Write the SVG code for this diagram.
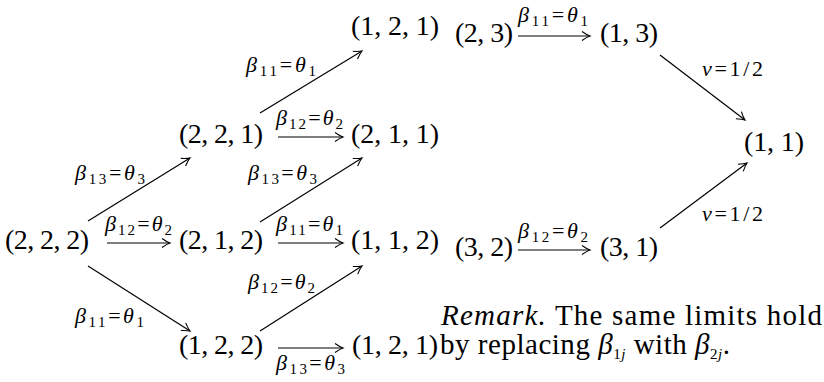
<svg xmlns="http://www.w3.org/2000/svg" width="824" height="382" viewBox="0 0 824 382">
<style>
.nd{font-family:"Liberation Serif",serif;font-size:28px;fill:#000}
.rm{font-family:"Liberation Serif",serif;font-size:29px;fill:#000}
.lb{font-family:"Liberation Serif",serif;font-size:22px;fill:#000}
.it{font-style:italic}
.sb{font-size:15px}
.ed{stroke:#000;stroke-width:1.2;fill:none;marker-end:url(#ah)}
</style>
<defs>
<marker id="ah" markerUnits="userSpaceOnUse" markerWidth="14" markerHeight="14" viewBox="-9 -7 11 14" refX="0" refY="0" orient="auto">
<path d="M-8,-4.5 Q-3,-1 0,0 Q-3,1 -8,4.5" stroke="#000" stroke-width="1.1" fill="none"/>
</marker>
</defs>
<g id="nodes">
<g id="n222"><text class="nd" x="5" y="249" textLength="84" lengthAdjust="spacing">(2, 2, 2)</text></g>
<g id="n221"><text class="nd" x="179" y="143" textLength="84" lengthAdjust="spacing">(2, 2, 1)</text></g>
<g id="n212"><text class="nd" x="179" y="249" textLength="84" lengthAdjust="spacing">(2, 1, 2)</text></g>
<g id="n122"><text class="nd" x="179" y="354" textLength="84" lengthAdjust="spacing">(1, 2, 2)</text></g>
<g id="n121a"><text class="nd" x="351" y="35" textLength="88" lengthAdjust="spacing">(1, 2, 1)</text></g>
<g id="n211"><text class="nd" x="351" y="143" textLength="88" lengthAdjust="spacing">(2, 1, 1)</text></g>
<g id="n112"><text class="nd" x="351" y="249" textLength="88" lengthAdjust="spacing">(1, 1, 2)</text></g>
<g id="n121b"><text class="nd" x="352" y="354" textLength="86" lengthAdjust="spacing">(1, 2, 1)</text></g>
<g id="n23"><text class="nd" x="455" y="42" textLength="58" lengthAdjust="spacing">(2, 3)</text></g>
<g id="n13"><text class="nd" x="600" y="42" textLength="58" lengthAdjust="spacing">(1, 3)</text></g>
<g id="n11"><text class="nd" x="744" y="151" textLength="60" lengthAdjust="spacing">(1, 1)</text></g>
<g id="n32"><text class="nd" x="455" y="256" textLength="58" lengthAdjust="spacing">(3, 2)</text></g>
<g id="n31"><text class="nd" x="600" y="256" textLength="58" lengthAdjust="spacing">(3, 1)</text></g>
</g>
<g id="connectors">
<path class="ed" d="M88,221 L190,158"/>
<path class="ed" d="M107,243 L170,243"/>
<path class="ed" d="M88,266 L190,331"/>
<path class="ed" d="M260,113 L362,51"/>
<path class="ed" d="M278,137 L343,137"/>
<path class="ed" d="M260,222 L362,158"/>
<path class="ed" d="M278,243 L343,243"/>
<path class="ed" d="M260,331 L362,266"/>
<path class="ed" d="M278,348 L343,348"/>
<path class="ed" d="M518,36 L590,36"/>
<path class="ed" d="M518,250 L590,250"/>
<path class="ed" d="M660,55 L745,120"/>
<path class="ed" d="M660,228 L747,163"/>
<g id="labels">
<text class="lb" x="75" y="180" textLength="70" lengthAdjust="spacing"><tspan class="it">β</tspan><tspan class="sb" dy="4">13</tspan><tspan dy="-4">=</tspan><tspan class="it">θ</tspan><tspan class="sb" dy="4">3</tspan></text>
<text class="lb" x="105" y="231" textLength="67" lengthAdjust="spacing"><tspan class="it">β</tspan><tspan class="sb" dy="4">12</tspan><tspan dy="-4">=</tspan><tspan class="it">θ</tspan><tspan class="sb" dy="4">2</tspan></text>
<text class="lb" x="75" y="323" textLength="69" lengthAdjust="spacing"><tspan class="it">β</tspan><tspan class="sb" dy="4">11</tspan><tspan dy="-4">=</tspan><tspan class="it">θ</tspan><tspan class="sb" dy="4">1</tspan></text>
<text class="lb" x="246" y="72" textLength="70" lengthAdjust="spacing"><tspan class="it">β</tspan><tspan class="sb" dy="4">11</tspan><tspan dy="-4">=</tspan><tspan class="it">θ</tspan><tspan class="sb" dy="4">1</tspan></text>
<text class="lb" x="276" y="125" textLength="67" lengthAdjust="spacing"><tspan class="it">β</tspan><tspan class="sb" dy="4">12</tspan><tspan dy="-4">=</tspan><tspan class="it">θ</tspan><tspan class="sb" dy="4">2</tspan></text>
<text class="lb" x="248" y="180" textLength="69" lengthAdjust="spacing"><tspan class="it">β</tspan><tspan class="sb" dy="4">13</tspan><tspan dy="-4">=</tspan><tspan class="it">θ</tspan><tspan class="sb" dy="4">3</tspan></text>
<text class="lb" x="276" y="231" textLength="67" lengthAdjust="spacing"><tspan class="it">β</tspan><tspan class="sb" dy="4">11</tspan><tspan dy="-4">=</tspan><tspan class="it">θ</tspan><tspan class="sb" dy="4">1</tspan></text>
<text class="lb" x="248" y="289" textLength="67" lengthAdjust="spacing"><tspan class="it">β</tspan><tspan class="sb" dy="4">12</tspan><tspan dy="-4">=</tspan><tspan class="it">θ</tspan><tspan class="sb" dy="4">2</tspan></text>
<text class="lb" x="276" y="370" textLength="69" lengthAdjust="spacing"><tspan class="it">β</tspan><tspan class="sb" dy="4">13</tspan><tspan dy="-4">=</tspan><tspan class="it">θ</tspan><tspan class="sb" dy="4">3</tspan></text>
<text class="lb" x="518" y="22" textLength="70" lengthAdjust="spacing"><tspan class="it">β</tspan><tspan class="sb" dy="4">11</tspan><tspan dy="-4">=</tspan><tspan class="it">θ</tspan><tspan class="sb" dy="4">1</tspan></text>
<text class="lb" x="518" y="238" textLength="70" lengthAdjust="spacing"><tspan class="it">β</tspan><tspan class="sb" dy="4">12</tspan><tspan dy="-4">=</tspan><tspan class="it">θ</tspan><tspan class="sb" dy="4">2</tspan></text>
<text class="lb" x="702" y="76" textLength="61" lengthAdjust="spacing"><tspan class="it">ν</tspan>=1/2</text>
<text class="lb" x="702" y="221" textLength="61" lengthAdjust="spacing"><tspan class="it">ν</tspan>=1/2</text>
</g>
</g>
<g id="remark">
<text class="rm" x="441" y="325" textLength="381" lengthAdjust="spacing"><tspan class="it">Remark.</tspan> The same limits hold</text>
<text class="rm" x="440" y="354" textLength="290" lengthAdjust="spacing">by replacing <tspan class="it">β</tspan><tspan class="sb" dy="5">1<tspan class="it">j</tspan></tspan><tspan dy="-5"> with </tspan><tspan class="it">β</tspan><tspan class="sb" dy="5">2<tspan class="it">j</tspan></tspan><tspan dy="-5">.</tspan></text>
</g>
</svg>
